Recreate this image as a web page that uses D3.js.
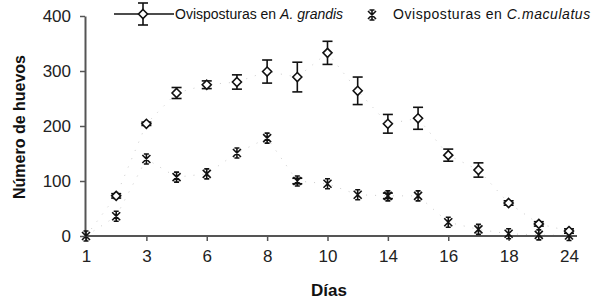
<!DOCTYPE html>
<html><head><meta charset="utf-8">
<script src="https://cdn.jsdelivr.net/npm/d3@7"></script>
<style>body{margin:0;background:#fff}svg{display:block}text{font-family:"Liberation Sans",Arial,sans-serif}</style>
</head><body><svg id="c" width="592" height="301"></svg>
<script>
const days = ["1","2","3","5","6","7","8","9","10","12","14","15","16","17","18","21","24"];
const tickLabels = ["1","3","6","8","10","14","16","18","24"];
const grandis = [0,73,204,260,275,280,299,289,333,264,204,214,147,120,60,22,9];
const grandisErr = [0,4,3,10,7,13,21,27,21,25,17,20,11,13,4,4,4];
const maculatus = [0,36,140,107,113,151,178,100,95,75,73,73,25,12,4,2,1];
const maculatusErr = [0,0,0,0,0,0,0,5,0,0,5,0,0,0,0,0,0];
const yTicks = [0,100,200,300,400];

const svg = d3.select("#c");
const x = d3.scalePoint().domain(days).range([86,569]);
const y = d3.scaleLinear().domain([0,400]).range([236,16]);
const axisCol = "#555";

// dotted faint lines
const line = d3.line().x((d,i)=>x(days[i])).y(d=>y(d));
[grandis, maculatus].forEach(s=>{
  svg.append("path").attr("d", line(s)).attr("fill","none")
    .attr("stroke","#ccc").attr("stroke-width",1).attr("stroke-dasharray","1,8");
});

// y axis
const ya = svg.append("g").attr("transform","translate(85,0)")
  .call(d3.axisLeft(y).tickValues(yTicks).tickSize(5).tickPadding(9).tickSizeOuter(0));
ya.select(".domain").attr("stroke",axisCol).attr("stroke-width",2);
ya.selectAll(".tick line").attr("stroke",axisCol).attr("stroke-width",1.5);
ya.selectAll(".tick text").attr("font-size",17).attr("fill","#222");

// x axis
const xa = svg.append("g").attr("transform","translate(0,236)")
  .call(d3.axisBottom(x).tickValues(days.filter((d,i)=>i%2===0)).tickSize(5).tickPadding(9).tickSizeOuter(0));
xa.select(".domain").attr("stroke",axisCol).attr("stroke-width",2).attr("d","M85,0H577");
xa.selectAll(".tick line").attr("stroke",axisCol).attr("stroke-width",1.5);
xa.selectAll(".tick text").attr("font-size",17).attr("fill","#222")
  .text((d,i)=>tickLabels[i]);

// axis titles
svg.append("text").attr("transform","translate(25,127) rotate(-90)")
  .attr("text-anchor","middle").attr("font-weight","bold").attr("font-size",16).attr("fill","#111")
  .text("Número de huevos");
svg.append("text").attr("x",329).attr("y",296).attr("text-anchor","middle")
  .attr("font-weight","bold").attr("font-size",17).attr("fill","#111").text("Días");

function errBar(g, cx, v, e){
  if(!e) return;
  const t=y(v+e), b=y(v-e);
  g.append("line").attr("x1",cx).attr("x2",cx).attr("y1",t).attr("y2",b);
  g.append("line").attr("x1",cx-5).attr("x2",cx+5).attr("y1",t).attr("y2",t);
  g.append("line").attr("x1",cx-5).attr("x2",cx+5).attr("y1",b).attr("y2",b);
}
const diamond = "M0,-4.5L4.5,0L0,4.5L-4.5,0Z";
const star = "M-4,-4L4,4M-4,4L4,-4M0,-5.5L0,5.5M-2.5,-5L2.5,-5M-2.5,5L2.5,5";

// maculatus
const gm = svg.append("g").attr("stroke","#111").attr("stroke-width",1.6).attr("fill","none");
maculatus.forEach((v,i)=>{
  const cx=x(days[i]);
  errBar(gm,cx,v,maculatusErr[i]);
  gm.append("path").attr("d",star).attr("transform",`translate(${cx},${y(v)})`);
});
// grandis
const gg = svg.append("g").attr("stroke","#111").attr("stroke-width",1.6);
grandis.forEach((v,i)=>{
  if(i===0) return;
  const cx=x(days[i]);
  errBar(gg,cx,v,grandisErr[i]);
  gg.append("path").attr("d",diamond).attr("fill","#fff").attr("transform",`translate(${cx},${y(v)})`);
});

// legend
const lg = svg.append("g");
lg.append("line").attr("x1",114).attr("x2",174).attr("y1",14).attr("y2",14).attr("stroke","#111").attr("stroke-width",1.6);
const lgg = lg.append("g").attr("stroke","#111").attr("stroke-width",1.6);
lgg.append("line").attr("x1",143).attr("x2",143).attr("y1",3).attr("y2",25);
lgg.append("line").attr("x1",138).attr("x2",148).attr("y1",3).attr("y2",3);
lgg.append("line").attr("x1",138).attr("x2",148).attr("y1",25).attr("y2",25);
lgg.append("path").attr("d",diamond).attr("fill","#fff").attr("transform","translate(143,14)");
const t1 = lg.append("text").attr("x",175).attr("y",19).attr("font-size",14).attr("fill","#111");
t1.append("tspan").text("Ovisposturas en ");
t1.append("tspan").attr("font-style","italic").text("A. grandis");
lg.append("path").attr("d",star).attr("transform","translate(372,15)").attr("stroke","#111").attr("stroke-width",1.6).attr("fill","none");
const t2 = lg.append("text").attr("x",393).attr("y",19).attr("font-size",14).attr("fill","#111")
  .attr("letter-spacing",0.55);
t2.append("tspan").text("Ovisposturas en ");
t2.append("tspan").attr("font-style","italic").text("C.maculatus");
</script></body></html>
